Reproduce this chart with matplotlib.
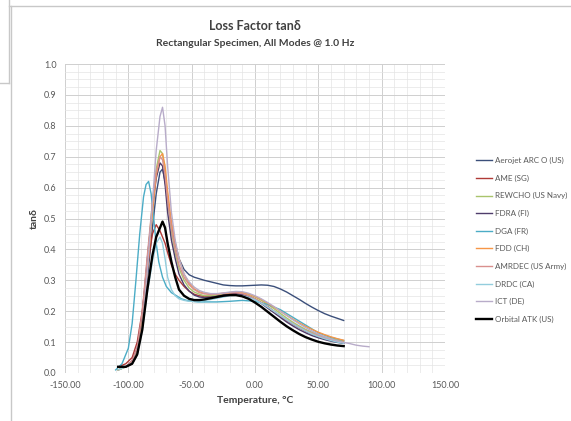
import matplotlib
matplotlib.use("Agg")
import matplotlib.pyplot as plt
from matplotlib.lines import Line2D
from matplotlib.ticker import MultipleLocator, FormatStrFormatter

plt.rcParams['font.family'] = ['Lato', 'DejaVu Sans']

# ---------------- data ----------------
base_t = [-108, -102, -97, -93, -89, -85, -81, -78, -75, -73, -71, -69, -66, -63, -60, -56, -52,
          -48, -44, -40, -35, -30, -25, -20, -15, -10, -5, 0, 5, 10, 15, 20, 25, 30, 35, 40, 45,
          50, 55, 60, 65, 70]

aerojet_tan = [0.01, 0.02, 0.03, 0.06, 0.15, 0.30, 0.47, 0.58, 0.65, 0.66, 0.62, 0.56, 0.48, 0.42,
               0.37, 0.335, 0.318, 0.31, 0.305, 0.30, 0.295, 0.29, 0.285, 0.283, 0.282, 0.282, 0.283,
               0.284, 0.285, 0.284, 0.28, 0.272, 0.262, 0.25, 0.238, 0.225, 0.213, 0.202, 0.192,
               0.184, 0.177, 0.17]
ame_tan = [0.02, 0.03, 0.05, 0.10, 0.20, 0.34, 0.45, 0.48, 0.46, 0.44, 0.42, 0.39, 0.35, 0.32, 0.30,
           0.28, 0.265, 0.255, 0.25, 0.248, 0.248, 0.25, 0.253, 0.256, 0.258, 0.256, 0.25, 0.24,
           0.228, 0.215, 0.2, 0.185, 0.17, 0.158, 0.146, 0.135, 0.126, 0.118, 0.112, 0.106, 0.101,
           0.097]
rewcho_tan = [0.01, 0.02, 0.03, 0.07, 0.18, 0.36, 0.55, 0.66, 0.72, 0.71, 0.65, 0.56, 0.46, 0.39,
              0.34, 0.30, 0.275, 0.262, 0.255, 0.25, 0.25, 0.252, 0.256, 0.26, 0.262, 0.26, 0.255,
              0.246, 0.235, 0.222, 0.208, 0.193, 0.178, 0.164, 0.152, 0.141, 0.132, 0.124, 0.117,
              0.111, 0.106, 0.102]
fdra_tan = [0.02, 0.02, 0.04, 0.08, 0.19, 0.37, 0.53, 0.63, 0.68, 0.67, 0.61, 0.52, 0.43, 0.37,
            0.32, 0.285, 0.265, 0.252, 0.246, 0.244, 0.245, 0.248, 0.252, 0.255, 0.256, 0.254,
            0.248, 0.238, 0.225, 0.21, 0.195, 0.18, 0.165, 0.152, 0.14, 0.13, 0.121, 0.114, 0.108,
            0.103, 0.099, 0.096]
dga_t = [-110, -105, -100, -97, -94, -91, -88, -86, -84, -82, -80, -78, -76, -73, -70, -66, -62,
         -58, -54, -50, -45, -40, -30, -20, -10, 0, 10, 20, 30, 40, 50, 60, 70]
dga_tan = [0.01, 0.03, 0.08, 0.16, 0.30, 0.45, 0.57, 0.61, 0.62, 0.58, 0.50, 0.42, 0.36, 0.31,
           0.28, 0.26, 0.25, 0.24, 0.235, 0.232, 0.23, 0.23, 0.23, 0.232, 0.235, 0.232, 0.222,
           0.205, 0.18, 0.155, 0.13, 0.115, 0.105]
fdd_tan = [0.01, 0.02, 0.03, 0.06, 0.16, 0.33, 0.52, 0.64, 0.70, 0.71, 0.67, 0.59, 0.49, 0.42,
           0.37, 0.32, 0.29, 0.272, 0.263, 0.258, 0.256, 0.256, 0.258, 0.26, 0.262, 0.26, 0.256,
           0.248, 0.238, 0.226, 0.213, 0.2, 0.187, 0.174, 0.162, 0.151, 0.141, 0.132, 0.124,
           0.117, 0.111, 0.106]
amrdec_tan = [0.02, 0.02, 0.04, 0.08, 0.20, 0.38, 0.55, 0.65, 0.70, 0.69, 0.64, 0.56, 0.47, 0.40,
              0.35, 0.31, 0.285, 0.27, 0.26, 0.256, 0.254, 0.255, 0.258, 0.26, 0.26, 0.257, 0.25,
              0.24, 0.228, 0.214, 0.2, 0.186, 0.172, 0.16, 0.148, 0.138, 0.129, 0.121, 0.114,
              0.108, 0.103, 0.099]
drdc_tan = [0.01, 0.02, 0.03, 0.06, 0.14, 0.26, 0.36, 0.42, 0.44, 0.42, 0.37, 0.31, 0.27, 0.25,
            0.24, 0.235, 0.232, 0.232, 0.233, 0.235, 0.238, 0.242, 0.246, 0.25, 0.252, 0.25, 0.245,
            0.237, 0.226, 0.213, 0.2, 0.186, 0.172, 0.159, 0.147, 0.136, 0.126, 0.118, 0.111,
            0.105, 0.1, 0.096]
ict_t = base_t + [75, 80, 85, 90]
ict_tan = [0.02, 0.02, 0.03, 0.06, 0.15, 0.33, 0.55, 0.72, 0.83, 0.86, 0.80, 0.67, 0.52, 0.43,
           0.37, 0.32, 0.295, 0.278, 0.267, 0.261, 0.257, 0.257, 0.259, 0.262, 0.264, 0.263, 0.258,
           0.25, 0.24, 0.228, 0.215, 0.2, 0.186, 0.172, 0.159, 0.147, 0.136, 0.126, 0.117, 0.11,
           0.104, 0.099, 0.095, 0.09, 0.087, 0.085]
orbital_tan = [0.02, 0.02, 0.03, 0.06, 0.14, 0.27, 0.38, 0.44, 0.47, 0.49, 0.47, 0.42, 0.36, 0.31,
               0.27, 0.25, 0.24, 0.236, 0.236, 0.238, 0.242, 0.246, 0.25, 0.252, 0.252, 0.248,
               0.24, 0.228, 0.214, 0.198, 0.182, 0.166, 0.151, 0.138, 0.126, 0.116, 0.108, 0.101,
               0.096, 0.092, 0.089, 0.087]

labels = ["Aerojet ARC O (US)", "AME (SG)", "REWCHO (US Navy)", "FDRA (FI)", "DGA (FR)",
          "FDD (CH)", "AMRDEC (US Army)", "DRDC (CA)", "ICT (DE)", "Orbital ATK (US)"]
colors = ["#3b4f7a", "#b03a37", "#a9c46c", "#4f3d6b", "#4bacc6",
          "#f79646", "#d9908e", "#93cddd", "#b8acc9", "#000000"]

series = [(base_t, aerojet_tan), (base_t, ame_tan), (base_t, rewcho_tan), (base_t, fdra_tan),
          (dga_t, dga_tan), (base_t, fdd_tan), (base_t, amrdec_tan), (base_t, drdc_tan),
          (ict_t, ict_tan), (base_t, orbital_tan)]

xticks = [-150, -100, -50, 0, 50, 100, 150]
yticks = [0.0, 0.1, 0.2, 0.3, 0.4, 0.5, 0.6, 0.7, 0.8, 0.9, 1.0]

# ---------------- figure ----------------
W, H = 571, 421
fig = plt.figure(figsize=(W / 100, H / 100), dpi=100)
fig.patch.set_facecolor("white")

left, right = 65 / W, 445 / W
top, bottom = 1 - 64 / H, 1 - 373 / H
ax = fig.add_axes([left, bottom, right - left, top - bottom])

for (t, v), lab, c in zip(series, labels, colors):
    lw = 1.7 if lab.startswith("Orbital") else 1.0
    ax.plot(t, v, color=c, lw=lw, label=lab, zorder=3)

ax.set_xlim(-150, 150)
ax.set_ylim(0, 1.0)
ax.set_xticks(xticks)
ax.set_yticks(yticks)
ax.xaxis.set_major_formatter(FormatStrFormatter('%.2f'))
ax.yaxis.set_major_formatter(FormatStrFormatter('%.1f'))
ax.xaxis.set_minor_locator(MultipleLocator(10))
ax.yaxis.set_minor_locator(MultipleLocator(0.025))
ax.grid(which='major', color='#cfcfcf', lw=0.7)
ax.grid(which='minor', color='#e4e4e4', lw=0.5)
ax.set_axisbelow(True)
for s in ax.spines.values():
    s.set_visible(False)
ax.tick_params(which='both', length=0, labelsize=6.5, colors='#595959', pad=6)

ax.set_xlabel("Temperature, °C", fontsize=7.5, fontweight='bold', color='#404040', labelpad=4)
ax.set_ylabel("tanδ", fontsize=7.5, fontweight='bold', color='#404040', labelpad=4,
              family=['Lato', 'DejaVu Sans'])

cx = (65 + 445) / 2 / W
fig.text(cx, 1 - 26 / H, "Loss Factor tanδ", ha='center', va='center', fontsize=9,
         fontweight='bold', color='#404040', family=['Lato', 'DejaVu Sans'])
fig.text(cx, 1 - 43 / H, "Rectangular Specimen, All Modes @ 1.0 Hz", ha='center', va='center',
         fontsize=7.5, fontweight='bold', color='#404040')

leg = fig.legend(loc='upper left', bbox_to_anchor=(476 / W, 1 - 157 / H), frameon=False,
                 fontsize=5.8, labelspacing=1.3, handlelength=2.0, handletextpad=0.4,
                 borderaxespad=0, borderpad=0)
for txt in leg.get_texts():
    txt.set_color('#595959')

# screenshot frame decorations
fc = '#c8c8c8'
fig.add_artist(Line2D([8.5 / W, 8.5 / W], [1, 1 - 83 / H], color=fc, lw=1))
fig.add_artist(Line2D([0, 8.5 / W], [1 - 83 / H, 1 - 83 / H], color=fc, lw=1))
fig.add_artist(Line2D([8.5 / W, 1], [1 - 6 / H, 1 - 6 / H], color=fc, lw=1))
fig.add_artist(Line2D([10.5 / W, 10.5 / W], [1 - 6 / H, 0], color=fc, lw=1))

fig.savefig("out.png", dpi=100, facecolor='white')
